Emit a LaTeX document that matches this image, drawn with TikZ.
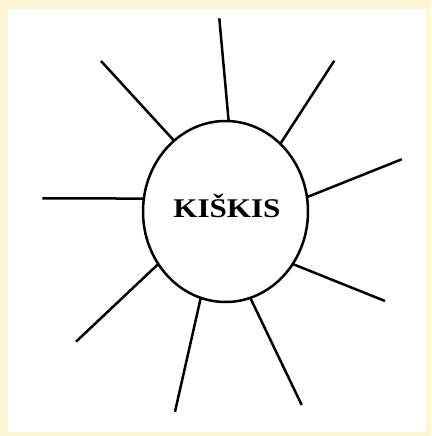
\documentclass[tikz,border=0pt]{standalone}
\usepackage{fontspec}
\setmainfont{Liberation Serif}
\usetikzlibrary{shapes.geometric}
\definecolor{cream}{RGB}{252,246,214}
\tikzset{
  ray/.style={line width=2.5pt, line cap=butt},
  sun/.style={ellipse, draw, line width=2.5pt, minimum width=165pt, minimum height=181pt, inner sep=0pt, outer sep=0pt},
  lbl/.style={font=\bfseries\fontsize{27}{28}\selectfont, inner sep=0pt}
}
\begin{document}
\begin{tikzpicture}[x=1pt,y=-1pt]
\fill[cream] (0,0) rectangle (431,436);
\fill[white] (8,9) rectangle (426,432);
\useasboundingbox (0,0) rectangle (431,436);
\node[sun] (c) at (225.5,211.5) {};
\node[lbl] (t) at (227,205.5) {\scalebox{1.15}[1]{KIŠKIS}};
\coordinate (o1) at (219.3,18.3);
\coordinate (o2) at (334.3,60.7);
\coordinate (o3) at (401.7,159.3);
\coordinate (o4) at (385,301);
\coordinate (o5) at (301.7,405);
\coordinate (o6) at (175,411.7);
\coordinate (o7) at (76,341.7);
\coordinate (o8) at (42.3,198.3);
\coordinate (o9) at (101,61);
\draw[ray] (c.88.2) -- (o1);
\draw[ray] (c.51.2) -- (o2);
\draw[ray] (c.10.5) -- (o3);
\draw[ray] (c.-38) -- (o4);
\draw[ray] (c.-74.6) -- (o5);
\draw[ray] (c.254.1) -- (o6);
\draw[ray] (c.218.5) -- (o7);
\draw[ray] (c.171) -- (o8);
\draw[ray] (c.126.6) -- (o9);
\end{tikzpicture}
\end{document}
